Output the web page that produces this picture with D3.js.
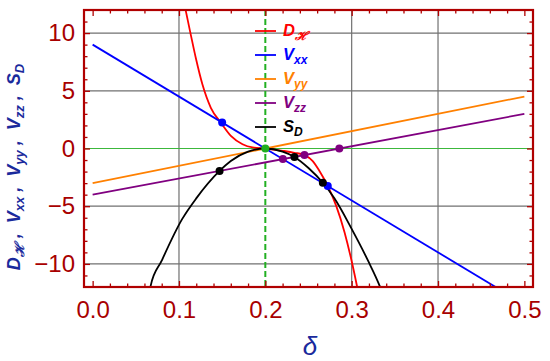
<!DOCTYPE html>
<html>
<head>
<meta charset="utf-8">
<script src="https://cdn.jsdelivr.net/npm/d3@7"></script>
<style>
  html, body { margin: 0; padding: 0; background: #fff; }
  svg { display: block; }
</style>
</head>
<body>
<svg id="chart" width="550" height="361"></svg>
<script>
// ---------- data ----------
const lineDelta = [0, 0.5];
const vxx = [9, -13.5];
const vyy = [-3, 4.5];
const vzz = [-4, 3];

const dHDelta = [0.1040, 0.1079, 0.1137, 0.1195, 0.1272, 0.1369, 0.1485, 0.1601, 0.1736, 0.1852, 0.2000,
                 0.2201, 0.2337, 0.2453, 0.2549, 0.2627, 0.2723, 0.2821, 0.2918, 0.2995, 0.3060, 0.3085];
const dHValue = [13.4, 11.92, 9.85, 7.84, 5.54, 3.53, 2.24, 1.09, 0.37, 0.09, 0.0,
                 -0.2, -0.37, -0.57, -1.09, -1.95, -3.25, -4.97, -7.27, -9.6, -11.87, -12.8];

const sDDelta = [0.064, 0.0672, 0.080, 0.1038, 0.120, 0.147, 0.160, 0.180, 0.200,
                 0.220, 0.2337, 0.250, 0.2666, 0.280, 0.2995, 0.3188, 0.3324, 0.336];
const sDValue = [-13.3, -11.9, -9.72, -6.1, -4.32, -1.94, -1.08, -0.27, 0.0,
                 -0.27, -0.73, -1.69, -2.97, -4.32, -6.9, -9.7, -11.9, -12.6];

const blueDots = [[0.15, 2.25], [0.2723, -3.25]];
const purpleDots = [[0.2203, -0.92], [0.2453, -0.57], [0.2857, 0]];
const blackDots = [[0.147, -1.94], [0.2337, -0.73], [0.2666, -2.97]];
const greenDots = [[0.2, 0]];

const xMajorTicks = [0, 0.1, 0.2, 0.3, 0.4, 0.5];
const xTickLabels = ["0.0", "0.1", "0.2", "0.3", "0.4", "0.5"];
const xMinorTicks = [0.02,0.04,0.06,0.08,0.12,0.14,0.16,0.18,0.22,0.24,0.26,0.28,0.32,0.34,0.36,0.38,0.42,0.44,0.46,0.48];
const yMajorTicks = [-10, -5, 0, 5, 10];
const yTickLabels = ["\u221210", "\u22125", "0", "5", "10"];
const yMinorTicks = [-11,-9,-8,-7,-6,-4,-3,-2,-1,1,2,3,4,6,7,8,9,11];
const xGrid = [0.1, 0.3, 0.4];
const yGrid = [-10, -5, 5, 10];
const markDelta = [0.2];

const legendNames = [["D", "\u210B"], ["V", "xx"], ["V", "yy"], ["V", "zz"], ["S", "D"]];
const seriesColors = ["#ff0000", "#0000ff", "#ff8000", "#800080", "#000000"];

// ---------- layout ----------
const svg = d3.select("#chart");
const L = 84, R = 533, T = 10, B = 287;
const x = d3.scaleLinear().domain([-0.01, 0.51]).range([L, R]);
const y = d3.scaleLinear().domain([-12, 12]).range([B, T]);
const frameColor = "#b00000";
const labelColor = "#a80000";
const axisTitleColor = "#1a2a9c";

svg.append("defs").append("clipPath").attr("id", "clip")
  .append("rect").attr("x", L).attr("y", T).attr("width", R - L).attr("height", B - T);

// grid
const grid = svg.append("g");
grid.selectAll(".gx").data(xGrid).join("line")
  .attr("x1", d => x(d)).attr("x2", d => x(d)).attr("y1", T).attr("y2", B)
  .attr("stroke", "#707070").attr("stroke-width", 1.2);
grid.selectAll(".gy").data(yGrid).join("line")
  .attr("x1", L).attr("x2", R).attr("y1", d => y(d)).attr("y2", d => y(d))
  .attr("stroke", "#707070").attr("stroke-width", 1.2);
grid.append("line").attr("x1", L).attr("x2", R).attr("y1", y(0)).attr("y2", y(0))
  .attr("stroke", "#3cb83c").attr("stroke-width", 1);
grid.selectAll(".gm").data(markDelta).join("line")
  .attr("x1", d => x(d)).attr("x2", d => x(d)).attr("y1", T).attr("y2", B)
  .attr("stroke", "#22b022").attr("stroke-width", 2).attr("stroke-dasharray", "6,3");

// curves
const plot = svg.append("g").attr("clip-path", "url(#clip)");
const lineGen = d3.line().x(d => x(d[0])).y(d => y(d[1]));
const smoothGen = d3.line().x(d => x(d[0])).y(d => y(d[1])).curve(d3.curveMonotoneX);

const zip = (a, b) => a.map((v, i) => [v, b[i]]);
const series = [
  { pts: zip(dHDelta, dHValue), gen: smoothGen },
  { pts: zip(lineDelta, vxx), gen: lineGen },
  { pts: zip(lineDelta, vyy), gen: lineGen },
  { pts: zip(lineDelta, vzz), gen: lineGen },
  { pts: zip(sDDelta, sDValue), gen: smoothGen }
];
series.forEach((s, i) => {
  plot.append("path").attr("d", s.gen(s.pts))
    .attr("fill", "none").attr("stroke", seriesColors[i]).attr("stroke-width", 1.8);
});

// dots
const dotSets = [[blueDots, "#0000ff"], [purpleDots, "#800080"], [blackDots, "#000000"], [greenDots, "#1fae1f"]];
dotSets.forEach(([pts, c]) => {
  plot.selectAll(null).data(pts).join("circle")
    .attr("cx", d => x(d[0])).attr("cy", d => y(d[1])).attr("r", 4).attr("fill", c);
});

// legend
const lg = svg.append("g");
legendNames.forEach((nm, i) => {
  const yy = 31 + i * 24;
  lg.append("line").attr("x1", 255).attr("x2", 276).attr("y1", yy).attr("y2", yy)
    .attr("stroke", seriesColors[i]).attr("stroke-width", 1.8);
  const t = lg.append("text").attr("x", 283).attr("y", yy + 5)
    .attr("fill", seriesColors[i])
    .attr("font-family", "Liberation Sans, Arial, sans-serif")
    .attr("font-weight", "bold").attr("font-style", "italic");
  t.append("tspan").attr("font-size", 16.5).text(nm[0]);
  t.append("tspan").attr("font-size", 12).attr("dy", 4).text(nm[1]);
});

// frame
svg.append("rect").attr("x", L).attr("y", T).attr("width", R - L).attr("height", B - T)
  .attr("fill", "none").attr("stroke", frameColor).attr("stroke-width", 2.2);

// ticks (inward, all sides)
function styleAxis(g) {
  g.select(".domain").remove();
  g.selectAll(".tick line").attr("stroke", frameColor).attr("stroke-width", 1.3);
}
svg.append("g").attr("transform", `translate(0,${B})`)
  .call(d3.axisBottom(x).tickValues(xMajorTicks).tickSize(-6).tickFormat((d, i) => xTickLabels[i]).tickPadding(14))
  .call(styleAxis)
  .call(g => g.selectAll("text").attr("fill", labelColor).attr("font-size", 24)
    .attr("font-family", "Liberation Sans, Arial, sans-serif"));
svg.append("g").attr("transform", `translate(0,${B})`)
  .call(d3.axisBottom(x).tickValues(xMinorTicks).tickSize(-3.5).tickFormat(""))
  .call(styleAxis);
svg.append("g").attr("transform", `translate(0,${T})`)
  .call(d3.axisTop(x).tickValues(xMajorTicks).tickSize(-6).tickFormat(""))
  .call(styleAxis);
svg.append("g").attr("transform", `translate(0,${T})`)
  .call(d3.axisTop(x).tickValues(xMinorTicks).tickSize(-3.5).tickFormat(""))
  .call(styleAxis);
svg.append("g").attr("transform", `translate(${L},0)`)
  .call(d3.axisLeft(y).tickValues(yMajorTicks).tickSize(-6).tickFormat((d, i) => yTickLabels[i]).tickPadding(9))
  .call(styleAxis)
  .call(g => g.selectAll("text").attr("fill", labelColor).attr("font-size", 24)
    .attr("font-family", "Liberation Sans, Arial, sans-serif"));
svg.append("g").attr("transform", `translate(${L},0)`)
  .call(d3.axisLeft(y).tickValues(yMinorTicks).tickSize(-3.5).tickFormat(""))
  .call(styleAxis);
svg.append("g").attr("transform", `translate(${R},0)`)
  .call(d3.axisRight(y).tickValues(yMajorTicks).tickSize(-6).tickFormat(""))
  .call(styleAxis);
svg.append("g").attr("transform", `translate(${R},0)`)
  .call(d3.axisRight(y).tickValues(yMinorTicks).tickSize(-3.5).tickFormat(""))
  .call(styleAxis);

// x axis title
svg.append("text").attr("x", 310).attr("y", 355).attr("text-anchor", "middle")
  .attr("fill", axisTitleColor).attr("font-size", 26).attr("font-style", "italic")
  .attr("font-family", "Liberation Sans, Arial, sans-serif").text("\u03B4");

// y axis title
const yt = svg.append("text").attr("transform", "translate(20,167) rotate(-90)")
  .attr("text-anchor", "middle").attr("fill", axisTitleColor)
  .attr("font-family", "Liberation Sans, Arial, sans-serif")
  .attr("font-weight", "bold").attr("font-style", "italic");
legendNames.forEach((nm, i) => {
  yt.append("tspan").attr("font-size", 18).attr("dy", i === 0 ? 0 : -4)
    .text((i === 0 ? "" : "\u00A0,\u00A0\u00A0") + nm[0]);
  yt.append("tspan").attr("font-size", 13).attr("dy", 4).text(nm[1]);
});
</script>
</body>
</html>
